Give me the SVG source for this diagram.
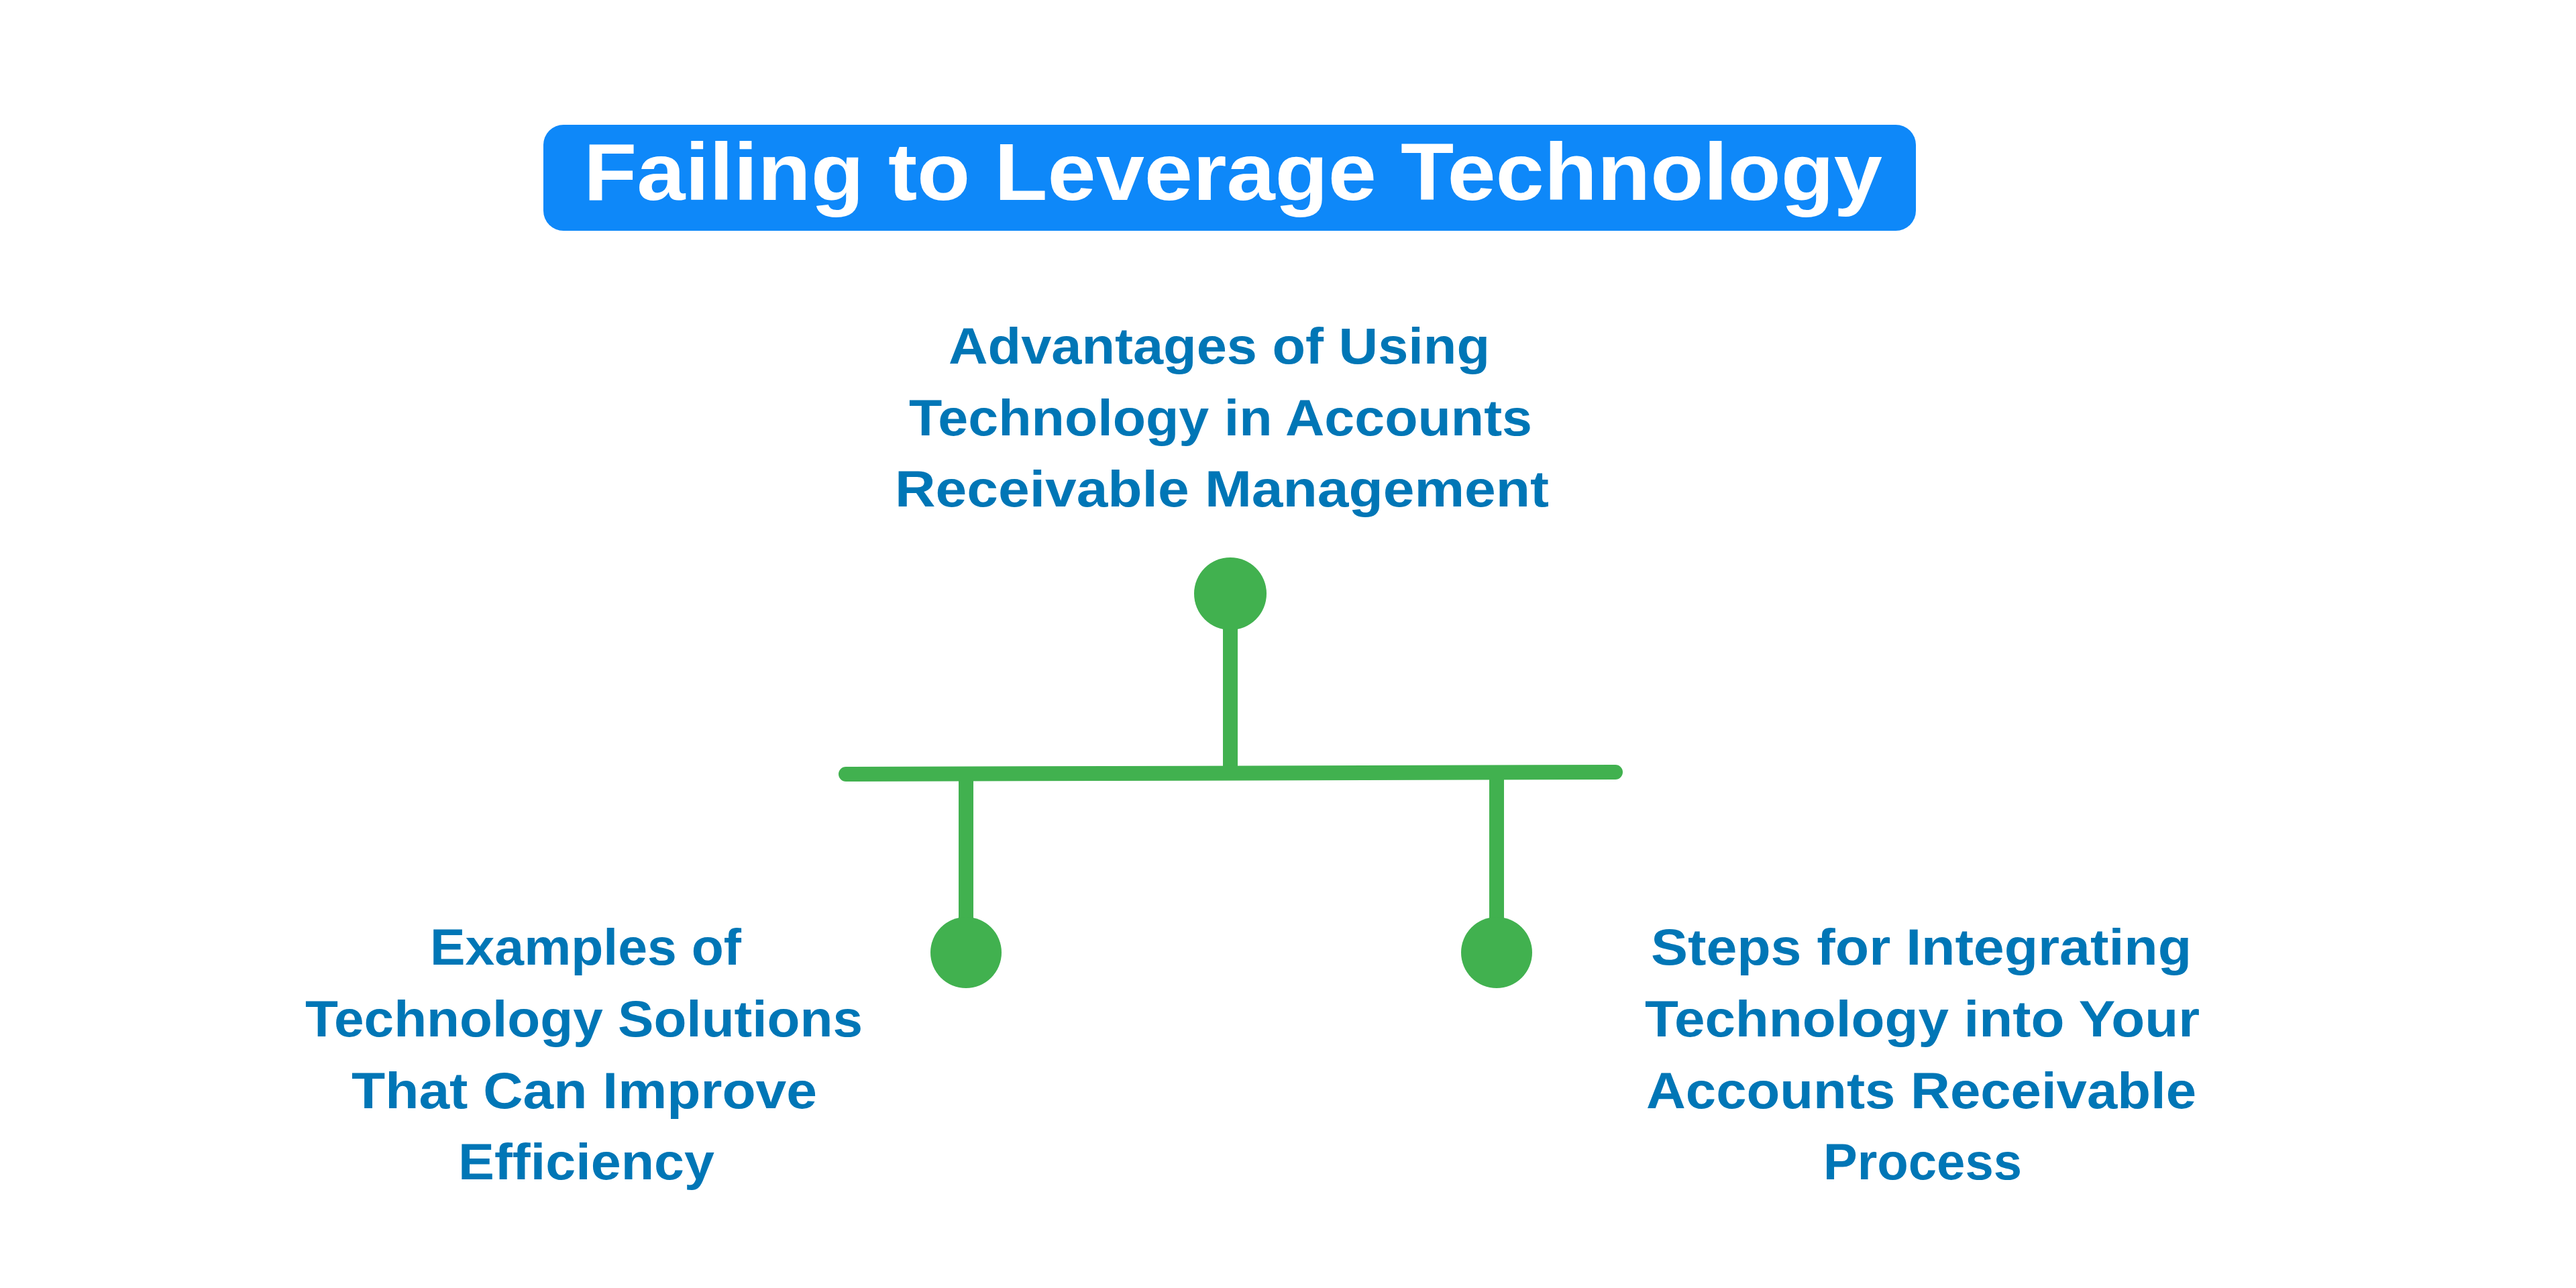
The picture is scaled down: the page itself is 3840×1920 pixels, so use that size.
<svg xmlns="http://www.w3.org/2000/svg" width="3840" height="1920" viewBox="0 0 3840 1920">
  <style>
    .lbl { font-family: "Liberation Sans", Arial, sans-serif; font-weight: bold; font-size: 76px; fill: #0076B6; }
    .title { font-family: "Liberation Sans", Arial, sans-serif; font-weight: bold; font-size: 120px; fill: #FFFFFF; }
    .dot { fill: #41B14F; }
    .wire { stroke: #41B14F; stroke-width: 22; fill: none; }
  </style>
  <rect x="0" y="0" width="3840" height="1920" fill="#FFFFFF"/>
  <g id="title">
    <rect x="810" y="186" width="2046" height="158" rx="30" ry="30" fill="#0E88F9"/>
    <text class="title" x="870" y="298" textLength="1936" lengthAdjust="spacingAndGlyphs">Failing to Leverage Technology</text>
  </g>
  <g id="connectors">
    <line class="wire" x1="1834" y1="930" x2="1834" y2="1153"/>
    <line class="wire" x1="1261" y1="1154" x2="2408" y2="1151" stroke-linecap="round"/>
    <line class="wire" x1="1440" y1="1153" x2="1440" y2="1380"/>
    <line class="wire" x1="2231" y1="1152" x2="2231" y2="1380"/>
  </g>
  <g id="node-advantages">
    <circle class="dot" cx="1834" cy="885" r="54"/>
    <text class="lbl" x="1414" y="542" textLength="807" lengthAdjust="spacingAndGlyphs">Advantages of Using</text>
    <text class="lbl" x="1355" y="649" textLength="929" lengthAdjust="spacingAndGlyphs">Technology in Accounts</text>
    <text class="lbl" x="1334" y="755" textLength="975" lengthAdjust="spacingAndGlyphs">Receivable Management</text>
  </g>
  <g id="node-examples">
    <circle class="dot" cx="1440" cy="1420" r="53"/>
    <text class="lbl" x="641" y="1438" textLength="464" lengthAdjust="spacingAndGlyphs">Examples of</text>
    <text class="lbl" x="455" y="1545" textLength="831" lengthAdjust="spacingAndGlyphs">Technology Solutions</text>
    <text class="lbl" x="524" y="1652" textLength="694" lengthAdjust="spacingAndGlyphs">That Can Improve</text>
    <text class="lbl" x="683" y="1758" textLength="382" lengthAdjust="spacingAndGlyphs">Efficiency</text>
  </g>
  <g id="node-steps">
    <circle class="dot" cx="2231" cy="1420" r="53"/>
    <text class="lbl" x="2461" y="1438" textLength="806" lengthAdjust="spacingAndGlyphs">Steps for Integrating</text>
    <text class="lbl" x="2452" y="1545" textLength="827" lengthAdjust="spacingAndGlyphs">Technology into Your</text>
    <text class="lbl" x="2454" y="1652" textLength="820" lengthAdjust="spacingAndGlyphs">Accounts Receivable</text>
    <text class="lbl" x="2718" y="1758" textLength="296" lengthAdjust="spacingAndGlyphs">Process</text>
  </g>
</svg>
